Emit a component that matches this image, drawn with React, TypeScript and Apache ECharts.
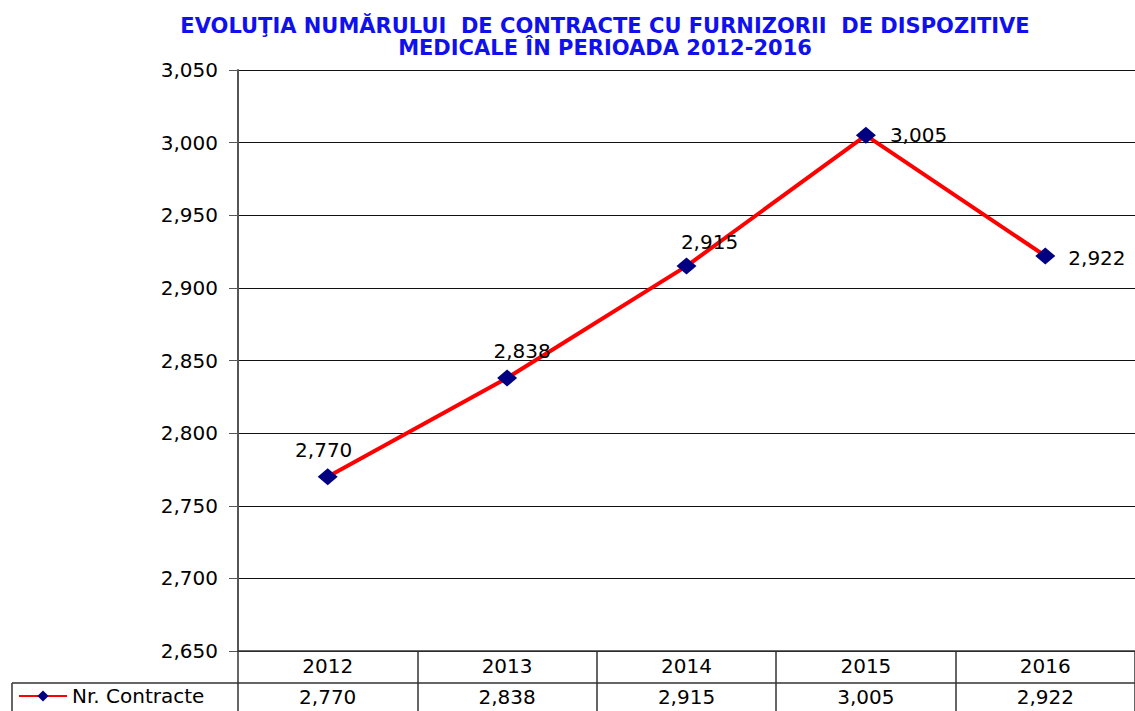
import React, { useEffect, useRef } from "react";
import * as echarts from "echarts";

const titleLines = [
  "EVOLUŢIA NUMĂRULUI  DE CONTRACTE CU FURNIZORII  DE DISPOZITIVE",
  "MEDICALE ÎN PERIOADA 2012-2016",
];
const categories = ["2012", "2013", "2014", "2015", "2016"];
const seriesName = "Nr. Contracte";
const values = [2770, 2838, 2915, 3005, 2922];
const yMin = 2650;
const yMax = 3050;
const yStep = 50;

const fmt = (v: number) => v.toLocaleString("en-US");
const labelPlacement: any[] = [
  { position: "top", offset: [-4, -3] },
  { position: "top", offset: [15, -3] },
  { position: "top", offset: [23, -1] },
  { position: "right", offset: [9, 0] },
  { position: "right", offset: [8, 2] },
];

export default function App() {
  const ref = useRef<HTMLDivElement>(null);
  useEffect(() => {
    document.body.style.margin = "0";
    const chart = echarts.init(ref.current!, null, { renderer: "svg" });
    const font = "'DejaVu Sans', Verdana, sans-serif";
    chart.setOption({
      animation: false,
      backgroundColor: "#ffffff",
      title: {
        text: titleLines.join("\n"),
        left: 600,
        top: 10,
        textAlign: "center",
        textStyle: {
          color: "#1010ee",
          fontSize: 21,
          fontWeight: "bold",
          fontFamily: font,
          lineHeight: 22,
        },
      },
      legend: {
        left: 13,
        top: 684,
        padding: [2, 5, 2, 5],
        itemWidth: 48,
        itemHeight: 14,
        itemGap: 5,
        data: [seriesName],
        textStyle: { fontSize: 20, lineHeight: 20, color: "#000", fontFamily: font },
      },
      grid: { left: 238, top: 70, width: 902, height: 581, containLabel: false },
      xAxis: [
        {
          type: "category",
          data: categories,
          position: "bottom",
          boundaryGap: true,
          axisLine: { lineStyle: { color: "#333", width: 1.5 } },
          axisTick: { show: true, length: 32, inside: false, lineStyle: { color: "#333", width: 1.5 } },
          axisLabel: { fontSize: 20, color: "#000", fontFamily: font, margin: 5 },
        },
        {
          type: "category",
          data: values.map(fmt),
          position: "bottom",
          offset: 32,
          boundaryGap: true,
          axisLine: { lineStyle: { color: "#333", width: 1.5 } },
          axisTick: { show: true, length: 40, inside: false, lineStyle: { color: "#333", width: 1.5 } },
          axisLabel: { fontSize: 20, lineHeight: 20, color: "#000", fontFamily: font, margin: 4 },
        },
      ],
      yAxis: {
        type: "value",
        min: yMin,
        max: yMax,
        interval: yStep,
        axisLine: { show: true, lineStyle: { color: "#555", width: 2 } },
        axisTick: { show: true, length: 9, lineStyle: { color: "#555" } },
        axisLabel: { fontSize: 20, color: "#000", fontFamily: font, margin: 20, formatter: (v: number) => fmt(v) },
        splitLine: { show: true, lineStyle: { color: "#111", width: 1 } },
      },
      graphic: [
        { type: "line", shape: { x1: 12, y1: 683, x2: 238, y2: 683 }, style: { stroke: "#333", lineWidth: 1.5 } },
        { type: "line", shape: { x1: 12, y1: 683, x2: 12, y2: 720 }, style: { stroke: "#333", lineWidth: 1.5 } },
      ],
      series: [
        {
          name: seriesName,
          type: "line",
          xAxisIndex: 0,
          data: values.map((v, i) => ({ value: v, label: labelPlacement[i] })),
          symbol: "diamond",
          symbolSize: [20, 17],
          itemStyle: { color: "#000080" },
          lineStyle: { color: "#ff0000", width: 4 },
          label: {
            show: true,
            fontSize: 20,
            color: "#000",
            fontFamily: font,
            formatter: (p: any) => fmt(p.value),
          },
        },
      ],
    });
    return () => chart.dispose();
  }, []);
  return <div ref={ref} style={{ width: 1135, height: 711 }} />;
}
